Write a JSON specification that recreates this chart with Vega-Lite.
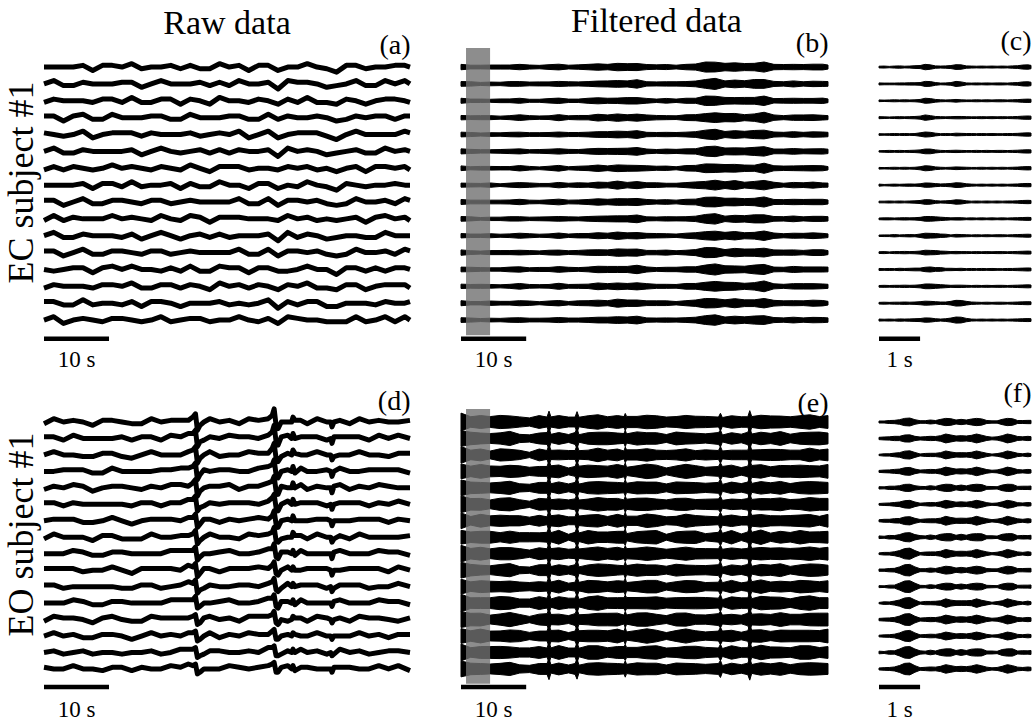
{
"$schema":"https://vega.github.io/schema/vega-lite/v6.json",
"padding":{"left":3,"top":5,"right":0,"bottom":0},
"background":"white",
"config":{"view":{"stroke":null},"title":{"font":"Liberation Serif","fontWeight":"normal","color":"black"}},
"datasets":{
"chmap":[{"key":"a","ch":10},{"key":"b","ch":20},{"key":"c","ch":30},{"key":"d","ch":40},{"key":"e","ch":50},{"key":"f","ch":60},{"key":"g","ch":70},{"key":"h","ch":80},{"key":"i","ch":90},{"key":"j","ch":100},{"key":"k","ch":110},{"key":"l","ch":120},{"key":"m","ch":130},{"key":"n","ch":140},{"key":"o","ch":150},{"key":"p","ch":160}],
"A":[
{"t":0,"a":10,"b":21,"c":29,"d":40,"e":51,"f":60,"g":69,"h":81,"i":90,"j":99,"k":110,"l":121,"m":131,"n":139,"o":150,"p":160},
{"t":1.5,"a":12,"b":21,"c":31,"d":39,"e":51,"f":62,"g":72,"h":81,"i":90,"j":101,"k":112,"l":120,"m":131,"n":141,"o":152,"p":160},
{"t":3,"a":8,"b":19,"c":30,"d":40,"e":48,"f":59,"g":69,"h":78,"i":90,"j":99,"k":109,"l":119,"m":128,"n":140,"o":149,"p":160},
{"t":4.5,"a":10,"b":19,"c":30,"d":41,"e":50,"f":59,"g":71,"h":80,"i":90,"j":101,"k":109,"l":120,"m":131,"n":140,"o":149,"p":160},
{"t":6,"a":11,"b":22,"c":30,"d":41,"e":52,"f":61,"g":70,"h":82,"i":91,"j":100,"k":111,"l":122,"m":132,"n":140,"o":151,"p":161},
{"t":7.5,"a":10,"b":19,"c":29,"d":38,"e":49,"f":60,"g":70,"h":79,"i":88,"j":99,"k":110,"l":118,"m":129,"n":139,"o":150,"p":158},
{"t":9,"a":9,"b":20,"c":31,"d":41,"e":49,"f":60,"g":70,"h":79,"i":91,"j":100,"k":110,"l":120,"m":129,"n":141,"o":150,"p":161},
{"t":10.5,"a":11,"b":20,"c":31,"d":42,"e":51,"f":60,"g":72,"h":81,"i":91,"j":102,"k":110,"l":121,"m":132,"n":141,"o":150,"p":161},
{"t":12,"a":11,"b":19,"c":30,"d":40,"e":51,"f":59,"g":70,"h":81,"i":89,"j":100,"k":110,"l":121,"m":130,"n":139,"o":151,"p":160},
{"t":13.5,"a":10,"b":21,"c":32,"d":42,"e":50,"f":61,"g":71,"h":80,"i":92,"j":101,"k":111,"l":121,"m":130,"n":142,"o":151,"p":162},
{"t":15,"a":9,"b":18,"c":29,"d":40,"e":49,"f":58,"g":70,"h":79,"i":89,"j":100,"k":108,"l":119,"m":130,"n":139,"o":148,"p":159},
{"t":16.5,"a":10,"b":21,"c":29,"d":40,"e":51,"f":60,"g":69,"h":81,"i":90,"j":99,"k":110,"l":121,"m":131,"n":139,"o":150,"p":160},
{"t":18,"a":12,"b":21,"c":31,"d":39,"e":51,"f":62,"g":72,"h":81,"i":90,"j":101,"k":112,"l":120,"m":131,"n":141,"o":152,"p":160},
{"t":19.5,"a":9,"b":20,"c":31,"d":41,"e":49,"f":60,"g":70,"h":79,"i":91,"j":100,"k":110,"l":120,"m":129,"n":141,"o":150,"p":161},
{"t":21,"a":10,"b":18,"c":29,"d":39,"e":50,"f":58,"g":69,"h":80,"i":88,"j":99,"k":109,"l":120,"m":129,"n":138,"o":150,"p":159},
{"t":22.5,"a":11,"b":20,"c":31,"d":42,"e":51,"f":60,"g":72,"h":81,"i":91,"j":102,"k":110,"l":121,"m":132,"n":141,"o":150,"p":161},
{"t":24,"a":11,"b":20,"c":30,"d":39,"e":50,"f":61,"g":71,"h":80,"i":89,"j":100,"k":111,"l":119,"m":130,"n":140,"o":151,"p":159},
{"t":25.5,"a":9,"b":20,"c":28,"d":39,"e":50,"f":59,"g":68,"h":80,"i":89,"j":98,"k":109,"l":120,"m":130,"n":138,"o":149,"p":159},
{"t":27,"a":10,"b":21,"c":32,"d":42,"e":50,"f":61,"g":71,"h":80,"i":92,"j":101,"k":111,"l":121,"m":130,"n":142,"o":151,"p":162},
{"t":28.5,"a":10,"b":19,"c":30,"d":41,"e":50,"f":59,"g":71,"h":80,"i":90,"j":101,"k":109,"l":120,"m":131,"n":140,"o":149,"p":160},
{"t":30,"a":12,"b":20,"c":31,"d":41,"e":52,"f":60,"g":71,"h":82,"i":90,"j":101,"k":111,"l":122,"m":131,"n":140,"o":152,"p":161},
{"t":31.5,"a":10,"b":19,"c":29,"d":38,"e":49,"f":60,"g":70,"h":79,"i":88,"j":99,"k":110,"l":118,"m":129,"n":139,"o":150,"p":158},
{"t":33,"a":9,"b":20,"c":31,"d":41,"e":49,"f":60,"g":70,"h":79,"i":91,"j":100,"k":110,"l":120,"m":129,"n":141,"o":150,"p":161},
{"t":34.5,"a":11,"b":22,"c":30,"d":41,"e":52,"f":61,"g":70,"h":82,"i":91,"j":100,"k":111,"l":122,"m":132,"n":140,"o":151,"p":161},
{"t":36,"a":8,"b":17,"c":28,"d":39,"e":48,"f":57,"g":69,"h":78,"i":88,"j":99,"k":107,"l":118,"m":129,"n":138,"o":147,"p":158},
{"t":37.5,"a":12,"b":21,"c":31,"d":39,"e":51,"f":62,"g":72,"h":81,"i":90,"j":101,"k":112,"l":120,"m":131,"n":141,"o":152,"p":160},
{"t":39,"a":11,"b":19,"c":30,"d":40,"e":51,"f":59,"g":70,"h":81,"i":89,"j":100,"k":110,"l":121,"m":130,"n":139,"o":151,"p":160},
{"t":40.5,"a":10,"b":21,"c":32,"d":42,"e":50,"f":61,"g":71,"h":80,"i":92,"j":101,"k":111,"l":121,"m":130,"n":142,"o":151,"p":162},
{"t":42,"a":10,"b":21,"c":29,"d":40,"e":51,"f":60,"g":69,"h":81,"i":90,"j":99,"k":110,"l":121,"m":131,"n":139,"o":150,"p":160},
{"t":43.5,"a":9,"b":18,"c":29,"d":40,"e":49,"f":58,"g":70,"h":79,"i":89,"j":100,"k":108,"l":119,"m":130,"n":139,"o":148,"p":159},
{"t":45,"a":9,"b":18,"c":28,"d":37,"e":48,"f":59,"g":69,"h":78,"i":87,"j":98,"k":109,"l":117,"m":128,"n":138,"o":149,"p":157},
{"t":46.5,"a":9,"b":20,"c":31,"d":41,"e":49,"f":60,"g":70,"h":79,"i":91,"j":100,"k":110,"l":120,"m":129,"n":141,"o":150,"p":161},
{"t":48,"a":12,"b":20,"c":31,"d":41,"e":52,"f":60,"g":71,"h":82,"i":90,"j":101,"k":111,"l":122,"m":131,"n":140,"o":152,"p":161},
{"t":49.5,"a":9,"b":20,"c":28,"d":39,"e":50,"f":59,"g":68,"h":80,"i":89,"j":98,"k":109,"l":120,"m":130,"n":138,"o":149,"p":159},
{"t":51,"a":10,"b":19,"c":30,"d":41,"e":50,"f":59,"g":71,"h":80,"i":90,"j":101,"k":109,"l":120,"m":131,"n":140,"o":149,"p":160},
{"t":52.5,"a":12,"b":21,"c":31,"d":39,"e":51,"f":62,"g":72,"h":81,"i":90,"j":101,"k":112,"l":120,"m":131,"n":141,"o":152,"p":160},
{"t":54,"a":9,"b":20,"c":31,"d":41,"e":49,"f":60,"g":70,"h":79,"i":91,"j":100,"k":110,"l":120,"m":129,"n":141,"o":150,"p":161},
{"t":55.5,"a":12,"b":20,"c":31,"d":41,"e":52,"f":60,"g":71,"h":82,"i":90,"j":101,"k":111,"l":122,"m":131,"n":140,"o":152,"p":161},
{"t":56.3,"a":10,"b":21,"c":29,"d":40,"e":51,"f":60,"g":69,"h":81,"i":90,"j":99,"k":110,"l":121,"m":131,"n":139,"o":150,"p":160}
],
"D":[
{"t":0,"a":11,"b":20,"c":30,"d":39,"e":50,"f":61,"g":71,"h":80,"i":89,"j":100,"k":111,"l":119,"m":130,"n":140,"o":151,"p":159},
{"t":1.5,"a":10,"b":21,"c":32,"d":42,"e":50,"f":61,"g":71,"h":80,"i":92,"j":101,"k":111,"l":121,"m":130,"n":142,"o":151,"p":162},
{"t":3,"a":10,"b":19,"c":30,"d":41,"e":50,"f":59,"g":71,"h":80,"i":90,"j":101,"k":109,"l":120,"m":131,"n":140,"o":149,"p":160},
{"t":4.5,"a":12,"b":20,"c":31,"d":41,"e":52,"f":60,"g":71,"h":82,"i":90,"j":101,"k":111,"l":122,"m":131,"n":140,"o":152,"p":161},
{"t":6,"a":10,"b":21,"c":29,"d":40,"e":51,"f":60,"g":69,"h":81,"i":90,"j":99,"k":110,"l":121,"m":131,"n":139,"o":150,"p":160},
{"t":7.5,"a":10,"b":19,"c":29,"d":38,"e":49,"f":60,"g":70,"h":79,"i":88,"j":99,"k":110,"l":118,"m":129,"n":139,"o":150,"p":158},
{"t":9,"a":9,"b":20,"c":31,"d":41,"e":49,"f":60,"g":70,"h":79,"i":91,"j":100,"k":110,"l":120,"m":129,"n":141,"o":150,"p":161},
{"t":10.5,"a":11,"b":20,"c":31,"d":42,"e":51,"f":60,"g":72,"h":81,"i":91,"j":102,"k":110,"l":121,"m":132,"n":141,"o":150,"p":161},
{"t":12,"a":11,"b":19,"c":30,"d":40,"e":51,"f":59,"g":70,"h":81,"i":89,"j":100,"k":110,"l":121,"m":130,"n":139,"o":151,"p":160},
{"t":13.5,"a":9,"b":20,"c":28,"d":39,"e":50,"f":59,"g":68,"h":80,"i":89,"j":98,"k":109,"l":120,"m":130,"n":138,"o":149,"p":159},
{"t":15,"a":11,"b":20,"c":30,"d":39,"e":50,"f":61,"g":71,"h":80,"i":89,"j":100,"k":111,"l":119,"m":130,"n":140,"o":151,"p":159},
{"t":16.5,"a":10,"b":21,"c":32,"d":42,"e":50,"f":61,"g":71,"h":80,"i":92,"j":101,"k":111,"l":121,"m":130,"n":142,"o":151,"p":162},
{"t":18,"a":10,"b":19,"c":30,"d":41,"e":50,"f":59,"g":71,"h":80,"i":90,"j":101,"k":109,"l":120,"m":131,"n":140,"o":149,"p":160},
{"t":19.5,"a":12,"b":20,"c":31,"d":41,"e":52,"f":60,"g":71,"h":82,"i":90,"j":101,"k":111,"l":122,"m":131,"n":140,"o":152,"p":161},
{"t":21,"a":11,"b":22,"c":30,"d":41,"e":52,"f":61,"g":70,"h":82,"i":91,"j":100,"k":111,"l":122,"m":132,"n":140,"o":151,"p":161},
{"t":22.2,"a":13,"b":22,"c":32,"d":41,"e":52,"f":63,"g":73,"h":82,"i":91,"j":102,"k":113,"l":121,"m":132,"n":142,"o":153,"p":161},
{"t":22.9,"a":12,"b":22,"c":32,"d":42,"e":52,"f":62,"g":72,"h":82,"i":92,"j":102,"k":113,"l":123,"m":133,"n":143,"o":153,"p":163},
{"t":23.3,"a":13,"b":23,"c":33,"d":43,"e":54,"f":64,"g":74,"h":84,"i":94,"j":104,"k":115,"l":125,"m":135,"n":145,"o":155,"p":165},
{"t":23.6,"a":7,"b":17,"c":27,"d":37,"e":47,"f":56,"g":66,"h":76,"i":86,"j":96,"k":106,"l":115,"m":125,"n":135,"o":145,"p":155},
{"t":24,"a":8,"b":18,"c":28,"d":38,"e":48,"f":58,"g":68,"h":78,"i":88,"j":98,"k":108,"l":118,"m":128,"n":138,"o":148,"p":158},
{"t":24.6,"a":10,"b":19,"c":30,"d":41,"e":50,"f":59,"g":71,"h":80,"i":90,"j":101,"k":109,"l":120,"m":131,"n":140,"o":149,"p":160},
{"t":25.5,"a":10,"b":21,"c":32,"d":42,"e":50,"f":61,"g":71,"h":80,"i":92,"j":101,"k":111,"l":121,"m":130,"n":142,"o":151,"p":162},
{"t":27,"a":10,"b":21,"c":29,"d":40,"e":51,"f":60,"g":69,"h":81,"i":90,"j":99,"k":110,"l":121,"m":131,"n":139,"o":150,"p":160},
{"t":28.5,"a":12,"b":20,"c":31,"d":41,"e":52,"f":60,"g":71,"h":82,"i":90,"j":101,"k":111,"l":122,"m":131,"n":140,"o":152,"p":161},
{"t":30,"a":11,"b":20,"c":30,"d":39,"e":50,"f":61,"g":71,"h":80,"i":89,"j":100,"k":111,"l":119,"m":130,"n":140,"o":151,"p":159},
{"t":31.5,"a":10,"b":21,"c":32,"d":42,"e":50,"f":61,"g":71,"h":80,"i":92,"j":101,"k":111,"l":121,"m":130,"n":142,"o":151,"p":162},
{"t":33,"a":11,"b":20,"c":31,"d":42,"e":51,"f":60,"g":72,"h":81,"i":91,"j":102,"k":110,"l":121,"m":132,"n":141,"o":150,"p":161},
{"t":34.5,"a":12,"b":23,"c":31,"d":42,"e":53,"f":62,"g":71,"h":83,"i":92,"j":101,"k":112,"l":123,"m":133,"n":141,"o":152,"p":162},
{"t":35.1,"a":13,"b":23,"c":33,"d":43,"e":53,"f":63,"g":73,"h":83,"i":93,"j":103,"k":114,"l":124,"m":134,"n":144,"o":154,"p":164},
{"t":35.4,"a":14,"b":24,"c":34,"d":45,"e":55,"f":65,"g":75,"h":86,"i":96,"j":106,"k":116,"l":127,"m":137,"n":147,"o":158,"p":168},
{"t":35.7,"a":8,"b":18,"c":28,"d":38,"e":48,"f":58,"g":68,"h":78,"i":88,"j":98,"k":108,"l":118,"m":128,"n":138,"o":148,"p":158},
{"t":36,"a":8,"b":18,"c":28,"d":37,"e":47,"f":57,"g":67,"h":77,"i":87,"j":96,"k":106,"l":116,"m":126,"n":136,"o":146,"p":156},
{"t":36.5,"a":11,"b":19,"c":30,"d":40,"e":51,"f":59,"g":70,"h":81,"i":89,"j":100,"k":110,"l":121,"m":130,"n":139,"o":151,"p":160},
{"t":37.5,"a":12,"b":21,"c":31,"d":39,"e":51,"f":62,"g":72,"h":81,"i":90,"j":101,"k":112,"l":120,"m":131,"n":141,"o":152,"p":160},
{"t":38.1,"a":10,"b":20,"c":30,"d":40,"e":50,"f":60,"g":70,"h":80,"i":90,"j":100,"k":110,"l":120,"m":130,"n":140,"o":150,"p":160},
{"t":38.3,"a":12,"b":22,"c":32,"d":42,"e":52,"f":62,"g":72,"h":82,"i":93,"j":103,"k":113,"l":123,"m":133,"n":143,"o":153,"p":163},
{"t":38.6,"a":9,"b":20,"c":31,"d":41,"e":49,"f":60,"g":70,"h":79,"i":91,"j":100,"k":110,"l":120,"m":129,"n":141,"o":150,"p":161},
{"t":39.5,"a":11,"b":22,"c":30,"d":41,"e":52,"f":61,"g":70,"h":82,"i":91,"j":100,"k":111,"l":122,"m":132,"n":140,"o":151,"p":161},
{"t":40.5,"a":11,"b":20,"c":30,"d":39,"e":50,"f":61,"g":71,"h":80,"i":89,"j":100,"k":111,"l":119,"m":130,"n":140,"o":151,"p":159},
{"t":42,"a":10,"b":21,"c":32,"d":42,"e":50,"f":61,"g":71,"h":80,"i":92,"j":101,"k":111,"l":121,"m":130,"n":142,"o":151,"p":162},
{"t":43.5,"a":10,"b":19,"c":30,"d":41,"e":50,"f":59,"g":71,"h":80,"i":90,"j":101,"k":109,"l":120,"m":131,"n":140,"o":149,"p":160},
{"t":44.1,"a":10,"b":20,"c":30,"d":40,"e":50,"f":60,"g":70,"h":80,"i":90,"j":100,"k":110,"l":120,"m":130,"n":140,"o":150,"p":160},
{"t":44.3,"a":8,"b":18,"c":28,"d":38,"e":48,"f":57,"g":67,"h":77,"i":87,"j":97,"k":107,"l":117,"m":127,"n":137,"o":147,"p":157},
{"t":44.6,"a":11,"b":19,"c":30,"d":40,"e":51,"f":59,"g":70,"h":81,"i":89,"j":100,"k":110,"l":121,"m":130,"n":139,"o":151,"p":160},
{"t":45.5,"a":11,"b":22,"c":30,"d":41,"e":52,"f":61,"g":70,"h":82,"i":91,"j":100,"k":111,"l":122,"m":132,"n":140,"o":151,"p":161},
{"t":47,"a":11,"b":20,"c":30,"d":39,"e":50,"f":61,"g":71,"h":80,"i":89,"j":100,"k":111,"l":119,"m":130,"n":140,"o":151,"p":159},
{"t":48.5,"a":10,"b":21,"c":32,"d":42,"e":50,"f":61,"g":71,"h":80,"i":92,"j":101,"k":111,"l":121,"m":130,"n":142,"o":151,"p":162},
{"t":50,"a":10,"b":19,"c":30,"d":41,"e":50,"f":59,"g":71,"h":80,"i":90,"j":101,"k":109,"l":120,"m":131,"n":140,"o":149,"p":160},
{"t":51.5,"a":12,"b":20,"c":31,"d":41,"e":52,"f":60,"g":71,"h":82,"i":90,"j":101,"k":111,"l":122,"m":131,"n":140,"o":152,"p":161},
{"t":53,"a":10,"b":21,"c":29,"d":40,"e":51,"f":60,"g":69,"h":81,"i":90,"j":99,"k":110,"l":121,"m":131,"n":139,"o":150,"p":160},
{"t":54.5,"a":12,"b":21,"c":31,"d":39,"e":51,"f":62,"g":72,"h":81,"i":90,"j":101,"k":112,"l":120,"m":131,"n":141,"o":152,"p":160},
{"t":56.3,"a":9,"b":20,"c":31,"d":41,"e":49,"f":60,"g":70,"h":79,"i":91,"j":100,"k":110,"l":120,"m":129,"n":141,"o":150,"p":161}
],
"B":[
{"t":0,"a":1.4,"b":1.5,"c":1.3,"d":1.4,"e":1.6,"f":1.3,"g":1.4,"h":1.5,"i":1.2,"j":1.4,"k":1.5,"l":1.4,"m":1.3,"n":1.5,"o":1.4,"p":1.6},
{"t":1.5,"a":1.2,"b":1.0,"c":1.1,"d":1.3,"e":1.1,"f":1.0,"g":1.2,"h":1.1,"i":1.1,"j":0.9,"k":1.2,"l":1.2,"m":1.1,"n":1.0,"o":1.3,"p":1.1},
{"t":3,"a":0.9,"b":1.0,"c":1.2,"d":1.1,"e":0.9,"f":1.0,"g":0.8,"h":1.1,"i":1.0,"j":1.1,"k":1.0,"l":0.9,"m":1.2,"n":1.0,"o":0.9,"p":1.1},
{"t":4.5,"a":1.1,"b":1.3,"c":1.1,"d":1.0,"e":1.2,"f":1.2,"g":1.0,"h":1.1,"i":1.3,"j":1.1,"k":1.0,"l":1.1,"m":1.2,"n":0.9,"o":1.1,"p":1.2},
{"t":6,"a":1.0,"b":1.1,"c":0.9,"d":1.0,"e":1.2,"f":0.9,"g":1.0,"h":1.1,"i":0.8,"j":1.0,"k":1.1,"l":1.0,"m":0.9,"n":1.1,"o":1.0,"p":1.2},
{"t":7.5,"a":1.3,"b":1.1,"c":1.2,"d":1.4,"e":1.2,"f":1.1,"g":1.3,"h":1.2,"i":1.2,"j":1.0,"k":1.3,"l":1.3,"m":1.2,"n":1.1,"o":1.4,"p":1.2},
{"t":9,"a":1.4,"b":1.5,"c":1.7,"d":1.6,"e":1.4,"f":1.5,"g":1.3,"h":1.6,"i":1.5,"j":1.6,"k":1.5,"l":1.4,"m":1.7,"n":1.5,"o":1.4,"p":1.6},
{"t":10.5,"a":1.1,"b":1.3,"c":1.1,"d":1.0,"e":1.2,"f":1.2,"g":1.0,"h":1.1,"i":1.3,"j":1.1,"k":1.0,"l":1.1,"m":1.2,"n":0.9,"o":1.1,"p":1.2},
{"t":12,"a":1.1,"b":0.9,"c":1.0,"d":1.2,"e":1.0,"f":0.9,"g":1.1,"h":1.0,"i":1.0,"j":0.8,"k":1.1,"l":1.1,"m":1.0,"n":0.9,"o":1.2,"p":1.0},
{"t":13.5,"a":1.2,"b":1.3,"c":1.1,"d":1.2,"e":1.4,"f":1.1,"g":1.2,"h":1.3,"i":1.0,"j":1.2,"k":1.3,"l":1.2,"m":1.1,"n":1.3,"o":1.2,"p":1.4},
{"t":15,"a":1.5,"b":1.6,"c":1.8,"d":1.7,"e":1.5,"f":1.6,"g":1.4,"h":1.7,"i":1.6,"j":1.7,"k":1.6,"l":1.5,"m":1.8,"n":1.6,"o":1.5,"p":1.7},
{"t":16.5,"a":1.2,"b":1.0,"c":1.1,"d":1.3,"e":1.1,"f":1.0,"g":1.2,"h":1.1,"i":1.1,"j":0.9,"k":1.2,"l":1.2,"m":1.1,"n":1.0,"o":1.3,"p":1.1},
{"t":18,"a":1.2,"b":1.4,"c":1.2,"d":1.1,"e":1.3,"f":1.3,"g":1.1,"h":1.2,"i":1.4,"j":1.2,"k":1.1,"l":1.2,"m":1.3,"n":1.0,"o":1.2,"p":1.3},
{"t":19.5,"a":1.4,"b":1.5,"c":1.3,"d":1.4,"e":1.6,"f":1.3,"g":1.4,"h":1.5,"i":1.2,"j":1.4,"k":1.5,"l":1.4,"m":1.3,"n":1.5,"o":1.4,"p":1.6},
{"t":21,"a":1.7,"b":1.8,"c":2.0,"d":1.9,"e":1.7,"f":1.8,"g":1.6,"h":1.9,"i":1.8,"j":1.9,"k":1.8,"l":1.7,"m":2.0,"n":1.8,"o":1.7,"p":1.9},
{"t":22.5,"a":1.7,"b":1.5,"c":1.6,"d":1.8,"e":1.6,"f":1.5,"g":1.7,"h":1.6,"i":1.6,"j":1.4,"k":1.7,"l":1.7,"m":1.6,"n":1.5,"o":1.8,"p":1.6},
{"t":24,"a":2.0,"b":2.4,"c":2.0,"d":1.8,"e":2.2,"f":2.2,"g":1.8,"h":2.0,"i":2.4,"j":2.0,"k":1.8,"l":2.0,"m":2.2,"n":1.6,"o":2.0,"p":2.2},
{"t":25.5,"a":1.8,"b":1.9,"c":1.7,"d":1.8,"e":2.0,"f":1.7,"g":1.8,"h":1.9,"i":1.6,"j":1.8,"k":1.9,"l":1.8,"m":1.7,"n":1.9,"o":1.8,"p":2.0},
{"t":27,"a":2.3,"b":1.9,"c":2.1,"d":2.5,"e":2.1,"f":1.9,"g":2.3,"h":2.1,"i":2.1,"j":1.7,"k":2.3,"l":2.3,"m":2.1,"n":1.9,"o":2.5,"p":2.1},
{"t":28.5,"a":1.3,"b":1.4,"c":1.6,"d":1.5,"e":1.3,"f":1.4,"g":1.2,"h":1.5,"i":1.4,"j":1.5,"k":1.4,"l":1.3,"m":1.6,"n":1.4,"o":1.3,"p":1.5},
{"t":30,"a":1.2,"b":1.4,"c":1.2,"d":1.1,"e":1.3,"f":1.3,"g":1.1,"h":1.2,"i":1.4,"j":1.2,"k":1.1,"l":1.2,"m":1.3,"n":1.0,"o":1.2,"p":1.3},
{"t":31.5,"a":1.3,"b":1.4,"c":1.2,"d":1.3,"e":1.5,"f":1.2,"g":1.3,"h":1.4,"i":1.1,"j":1.3,"k":1.4,"l":1.3,"m":1.2,"n":1.4,"o":1.3,"p":1.5},
{"t":33,"a":1.2,"b":1.0,"c":1.1,"d":1.3,"e":1.1,"f":1.0,"g":1.2,"h":1.1,"i":1.1,"j":0.9,"k":1.2,"l":1.2,"m":1.1,"n":1.0,"o":1.3,"p":1.1},
{"t":34.5,"a":1.4,"b":1.5,"c":1.7,"d":1.6,"e":1.4,"f":1.5,"g":1.3,"h":1.6,"i":1.5,"j":1.6,"k":1.5,"l":1.4,"m":1.7,"n":1.5,"o":1.4,"p":1.6},
{"t":36,"a":1.7,"b":1.9,"c":1.7,"d":1.6,"e":1.8,"f":1.8,"g":1.6,"h":1.7,"i":1.9,"j":1.7,"k":1.6,"l":1.7,"m":1.8,"n":1.5,"o":1.7,"p":1.8},
{"t":37.5,"a":2.6,"b":2.8,"c":2.4,"d":2.6,"e":3.0,"f":2.4,"g":2.6,"h":2.8,"i":2.2,"j":2.6,"k":2.8,"l":2.6,"m":2.4,"n":2.8,"o":2.6,"p":3.0},
{"t":39,"a":3.1,"b":2.7,"c":2.9,"d":3.3,"e":2.9,"f":2.7,"g":3.1,"h":2.9,"i":2.9,"j":2.5,"k":3.1,"l":3.1,"m":2.9,"n":2.7,"o":3.3,"p":2.9},
{"t":40.5,"a":1.8,"b":2.0,"c":2.4,"d":2.2,"e":1.8,"f":2.0,"g":1.6,"h":2.2,"i":2.0,"j":2.2,"k":2.0,"l":1.8,"m":2.4,"n":2.0,"o":1.8,"p":2.2},
{"t":42,"a":2.3,"b":2.7,"c":2.3,"d":2.1,"e":2.5,"f":2.5,"g":2.1,"h":2.3,"i":2.7,"j":2.3,"k":2.1,"l":2.3,"m":2.5,"n":1.9,"o":2.3,"p":2.5},
{"t":43.5,"a":1.9,"b":2.0,"c":1.8,"d":1.9,"e":2.1,"f":1.8,"g":1.9,"h":2.0,"i":1.7,"j":1.9,"k":2.0,"l":1.9,"m":1.8,"n":2.0,"o":1.9,"p":2.1},
{"t":45,"a":2.4,"b":2.0,"c":2.2,"d":2.6,"e":2.2,"f":2.0,"g":2.4,"h":2.2,"i":2.2,"j":1.8,"k":2.4,"l":2.4,"m":2.2,"n":2.0,"o":2.6,"p":2.2},
{"t":46.5,"a":2.6,"b":2.8,"c":3.2,"d":3.0,"e":2.6,"f":2.8,"g":2.4,"h":3.0,"i":2.8,"j":3.0,"k":2.8,"l":2.6,"m":3.2,"n":2.8,"o":2.6,"p":3.0},
{"t":48,"a":1.5,"b":1.7,"c":1.5,"d":1.4,"e":1.6,"f":1.6,"g":1.4,"h":1.5,"i":1.7,"j":1.5,"k":1.4,"l":1.5,"m":1.6,"n":1.3,"o":1.5,"p":1.6},
{"t":49.5,"a":1.3,"b":1.4,"c":1.2,"d":1.3,"e":1.5,"f":1.2,"g":1.3,"h":1.4,"i":1.1,"j":1.3,"k":1.4,"l":1.3,"m":1.2,"n":1.4,"o":1.3,"p":1.5},
{"t":51,"a":1.7,"b":1.5,"c":1.6,"d":1.8,"e":1.6,"f":1.5,"g":1.7,"h":1.6,"i":1.6,"j":1.4,"k":1.7,"l":1.7,"m":1.6,"n":1.5,"o":1.8,"p":1.6},
{"t":52.5,"a":1.3,"b":1.4,"c":1.6,"d":1.5,"e":1.3,"f":1.4,"g":1.2,"h":1.5,"i":1.4,"j":1.5,"k":1.4,"l":1.3,"m":1.6,"n":1.4,"o":1.3,"p":1.5},
{"t":54,"a":1.6,"b":1.8,"c":1.6,"d":1.5,"e":1.7,"f":1.7,"g":1.5,"h":1.6,"i":1.8,"j":1.6,"k":1.5,"l":1.6,"m":1.7,"n":1.4,"o":1.6,"p":1.7},
{"t":55.5,"a":1.5,"b":1.6,"c":1.4,"d":1.5,"e":1.7,"f":1.4,"g":1.5,"h":1.6,"i":1.3,"j":1.5,"k":1.6,"l":1.5,"m":1.4,"n":1.6,"o":1.5,"p":1.7},
{"t":56.3,"a":1.3,"b":1.1,"c":1.2,"d":1.4,"e":1.2,"f":1.1,"g":1.3,"h":1.2,"i":1.2,"j":1.0,"k":1.3,"l":1.3,"m":1.2,"n":1.1,"o":1.4,"p":1.2}
],
"E":[
{"t":0,"a":4.8,"b":5.1,"c":4.5,"d":4.8,"e":5.4,"f":4.5,"g":4.8,"h":5.1,"i":4.2,"j":4.8,"k":5.1,"l":4.8,"m":4.5,"n":5.1,"o":4.8,"p":5.4},
{"t":1.5,"a":3.5,"b":2.9,"c":3.2,"d":3.8,"e":3.2,"f":2.9,"g":3.5,"h":3.2,"i":3.2,"j":2.6,"k":3.5,"l":3.5,"m":3.2,"n":2.9,"o":3.8,"p":3.2},
{"t":3,"a":3.3,"b":3.6,"c":4.2,"d":3.9,"e":3.3,"f":3.6,"g":3.0,"h":3.9,"i":3.6,"j":3.9,"k":3.6,"l":3.3,"m":4.2,"n":3.6,"o":3.3,"p":3.9},
{"t":4.5,"a":3.0,"b":3.6,"c":3.0,"d":2.7,"e":3.3,"f":3.3,"g":2.7,"h":3.0,"i":3.6,"j":3.0,"k":2.7,"l":3.0,"m":3.3,"n":2.4,"o":3.0,"p":3.3},
{"t":6,"a":3.4,"b":3.7,"c":3.1,"d":3.4,"e":4.0,"f":3.1,"g":3.4,"h":3.7,"i":2.8,"j":3.4,"k":3.7,"l":3.4,"m":3.1,"n":3.7,"o":3.4,"p":4.0},
{"t":7.5,"a":4.0,"b":3.4,"c":3.7,"d":4.3,"e":3.7,"f":3.4,"g":4.0,"h":3.7,"i":3.7,"j":3.1,"k":4.0,"l":4.0,"m":3.7,"n":3.4,"o":4.3,"p":3.7},
{"t":9,"a":2.5,"b":2.8,"c":3.4,"d":3.1,"e":2.5,"f":2.8,"g":2.2,"h":3.1,"i":2.8,"j":3.1,"k":2.8,"l":2.5,"m":3.4,"n":2.8,"o":2.5,"p":3.1},
{"t":10.5,"a":2.2,"b":2.8,"c":2.2,"d":1.9,"e":2.5,"f":2.5,"g":1.9,"h":2.2,"i":2.8,"j":2.2,"k":1.9,"l":2.2,"m":2.5,"n":1.6,"o":2.2,"p":2.5},
{"t":12,"a":3.3,"b":3.6,"c":3.0,"d":3.3,"e":3.9,"f":3.0,"g":3.3,"h":3.6,"i":2.7,"j":3.3,"k":3.6,"l":3.3,"m":3.0,"n":3.6,"o":3.3,"p":3.9},
{"t":13.2,"a":3.3,"b":2.7,"c":3.0,"d":3.6,"e":3.0,"f":2.7,"g":3.3,"h":3.0,"i":3.0,"j":2.4,"k":3.3,"l":3.3,"m":3.0,"n":2.7,"o":3.6,"p":3.0},
{"t":13.5,"a":6.5,"b":6.4,"c":6.6,"d":6.5,"e":6.3,"f":6.5,"g":6.6,"h":6.4,"i":6.5,"j":6.5,"k":6.4,"l":6.6,"m":6.5,"n":6.3,"o":6.5,"p":6.6},
{"t":13.8,"a":2.5,"b":2.8,"c":3.4,"d":3.1,"e":2.5,"f":2.8,"g":2.2,"h":3.1,"i":2.8,"j":3.1,"k":2.8,"l":2.5,"m":3.4,"n":2.8,"o":2.5,"p":3.1},
{"t":15,"a":3.6,"b":4.2,"c":3.6,"d":3.3,"e":3.9,"f":3.9,"g":3.3,"h":3.6,"i":4.2,"j":3.6,"k":3.3,"l":3.6,"m":3.9,"n":3.0,"o":3.6,"p":3.9},
{"t":16.5,"a":2.4,"b":2.7,"c":2.1,"d":2.4,"e":3.0,"f":2.1,"g":2.4,"h":2.7,"i":1.8,"j":2.4,"k":2.7,"l":2.4,"m":2.1,"n":2.7,"o":2.4,"p":3.0},
{"t":17.5,"a":3.3,"b":2.7,"c":3.0,"d":3.6,"e":3.0,"f":2.7,"g":3.3,"h":3.0,"i":3.0,"j":2.4,"k":3.3,"l":3.3,"m":3.0,"n":2.7,"o":3.6,"p":3.0},
{"t":17.8,"a":6.2,"b":6.1,"c":6.3,"d":6.2,"e":6.0,"f":6.2,"g":6.3,"h":6.1,"i":6.2,"j":6.2,"k":6.1,"l":6.3,"m":6.2,"n":6.0,"o":6.2,"p":6.3},
{"t":18.1,"a":2.3,"b":2.6,"c":3.2,"d":2.9,"e":2.3,"f":2.6,"g":2.0,"h":2.9,"i":2.6,"j":2.9,"k":2.6,"l":2.3,"m":3.2,"n":2.6,"o":2.3,"p":2.9},
{"t":19.5,"a":3.5,"b":4.1,"c":3.5,"d":3.2,"e":3.8,"f":3.8,"g":3.2,"h":3.5,"i":4.1,"j":3.5,"k":3.2,"l":3.5,"m":3.8,"n":2.9,"o":3.5,"p":3.8},
{"t":21,"a":3.8,"b":4.1,"c":3.5,"d":3.8,"e":4.4,"f":3.5,"g":3.8,"h":4.1,"i":3.2,"j":3.8,"k":4.1,"l":3.8,"m":3.5,"n":4.1,"o":3.8,"p":4.4},
{"t":22.5,"a":3.5,"b":2.9,"c":3.2,"d":3.8,"e":3.2,"f":2.9,"g":3.5,"h":3.2,"i":3.2,"j":2.6,"k":3.5,"l":3.5,"m":3.2,"n":2.9,"o":3.8,"p":3.2},
{"t":24,"a":3.3,"b":3.6,"c":4.2,"d":3.9,"e":3.3,"f":3.6,"g":3.0,"h":3.9,"i":3.6,"j":3.9,"k":3.6,"l":3.3,"m":4.2,"n":3.6,"o":3.3,"p":3.9},
{"t":25,"a":3.0,"b":3.6,"c":3.0,"d":2.7,"e":3.3,"f":3.3,"g":2.7,"h":3.0,"i":3.6,"j":3.0,"k":2.7,"l":3.0,"m":3.3,"n":2.4,"o":3.0,"p":3.3},
{"t":25.2,"a":5.0,"b":4.8,"c":5.2,"d":5.0,"e":4.9,"f":5.1,"g":5.0,"h":4.8,"i":5.0,"j":5.2,"k":4.9,"l":5.0,"m":5.1,"n":4.8,"o":5.0,"p":5.2},
{"t":25.4,"a":2.8,"b":3.1,"c":2.5,"d":2.8,"e":3.4,"f":2.5,"g":2.8,"h":3.1,"i":2.2,"j":2.8,"k":3.1,"l":2.8,"m":2.5,"n":3.1,"o":2.8,"p":3.4},
{"t":27,"a":3.7,"b":3.1,"c":3.4,"d":4.0,"e":3.4,"f":3.1,"g":3.7,"h":3.4,"i":3.4,"j":2.8,"k":3.7,"l":3.7,"m":3.4,"n":3.1,"o":4.0,"p":3.4},
{"t":28.5,"a":3.5,"b":3.8,"c":4.4,"d":4.1,"e":3.5,"f":3.8,"g":3.2,"h":4.1,"i":3.8,"j":4.1,"k":3.8,"l":3.5,"m":4.4,"n":3.8,"o":3.5,"p":4.1},
{"t":30,"a":3.5,"b":4.1,"c":3.5,"d":3.2,"e":3.8,"f":3.8,"g":3.2,"h":3.5,"i":4.1,"j":3.5,"k":3.2,"l":3.5,"m":3.8,"n":2.9,"o":3.5,"p":3.8},
{"t":31.5,"a":2.4,"b":2.7,"c":2.1,"d":2.4,"e":3.0,"f":2.1,"g":2.4,"h":2.7,"i":1.8,"j":2.4,"k":2.7,"l":2.4,"m":2.1,"n":2.7,"o":2.4,"p":3.0},
{"t":33,"a":3.6,"b":3.0,"c":3.3,"d":3.9,"e":3.3,"f":3.0,"g":3.6,"h":3.3,"i":3.3,"j":2.7,"k":3.6,"l":3.6,"m":3.3,"n":3.0,"o":3.9,"p":3.3},
{"t":34.5,"a":3.4,"b":3.7,"c":4.3,"d":4.0,"e":3.4,"f":3.7,"g":3.1,"h":4.0,"i":3.7,"j":4.0,"k":3.7,"l":3.4,"m":4.3,"n":3.7,"o":3.4,"p":4.0},
{"t":36,"a":3.2,"b":3.8,"c":3.2,"d":2.9,"e":3.5,"f":3.5,"g":2.9,"h":3.2,"i":3.8,"j":3.2,"k":2.9,"l":3.2,"m":3.5,"n":2.6,"o":3.2,"p":3.5},
{"t":37.5,"a":2.8,"b":3.1,"c":2.5,"d":2.8,"e":3.4,"f":2.5,"g":2.8,"h":3.1,"i":2.2,"j":2.8,"k":3.1,"l":2.8,"m":2.5,"n":3.1,"o":2.8,"p":3.4},
{"t":39.5,"a":3.3,"b":2.7,"c":3.0,"d":3.6,"e":3.0,"f":2.7,"g":3.3,"h":3.0,"i":3.0,"j":2.4,"k":3.3,"l":3.3,"m":3.0,"n":2.7,"o":3.6,"p":3.0},
{"t":39.8,"a":5.2,"b":5.0,"c":5.3,"d":5.1,"e":5.2,"f":5.0,"g":5.3,"h":5.2,"i":5.1,"j":5.2,"k":5.0,"l":5.3,"m":5.2,"n":5.1,"o":5.2,"p":5.3},
{"t":40.1,"a":2.1,"b":2.4,"c":3.0,"d":2.7,"e":2.1,"f":2.4,"g":1.8,"h":2.7,"i":2.4,"j":2.7,"k":2.4,"l":2.1,"m":3.0,"n":2.4,"o":2.1,"p":2.7},
{"t":41.5,"a":3.5,"b":4.1,"c":3.5,"d":3.2,"e":3.8,"f":3.8,"g":3.2,"h":3.5,"i":4.1,"j":3.5,"k":3.2,"l":3.5,"m":3.8,"n":2.9,"o":3.5,"p":3.8},
{"t":43,"a":2.6,"b":2.9,"c":2.3,"d":2.6,"e":3.2,"f":2.3,"g":2.6,"h":2.9,"i":2.0,"j":2.6,"k":2.9,"l":2.6,"m":2.3,"n":2.9,"o":2.6,"p":3.2},
{"t":44,"a":3.5,"b":2.9,"c":3.2,"d":3.8,"e":3.2,"f":2.9,"g":3.5,"h":3.2,"i":3.2,"j":2.6,"k":3.5,"l":3.5,"m":3.2,"n":2.9,"o":3.8,"p":3.2},
{"t":44.3,"a":6.8,"b":6.7,"c":6.9,"d":6.8,"e":6.6,"f":6.8,"g":6.9,"h":6.7,"i":6.8,"j":6.8,"k":6.7,"l":6.9,"m":6.8,"n":6.6,"o":6.8,"p":6.9},
{"t":44.6,"a":2.7,"b":3.0,"c":3.6,"d":3.3,"e":2.7,"f":3.0,"g":2.4,"h":3.3,"i":3.0,"j":3.3,"k":3.0,"l":2.7,"m":3.6,"n":3.0,"o":2.7,"p":3.3},
{"t":46,"a":3.8,"b":4.4,"c":3.8,"d":3.5,"e":4.1,"f":4.1,"g":3.5,"h":3.8,"i":4.4,"j":3.8,"k":3.5,"l":3.8,"m":4.1,"n":3.2,"o":3.8,"p":4.1},
{"t":47.5,"a":3.1,"b":3.4,"c":2.8,"d":3.1,"e":3.7,"f":2.8,"g":3.1,"h":3.4,"i":2.5,"j":3.1,"k":3.4,"l":3.1,"m":2.8,"n":3.4,"o":3.1,"p":3.7},
{"t":49,"a":3.9,"b":3.3,"c":3.6,"d":4.2,"e":3.6,"f":3.3,"g":3.9,"h":3.6,"i":3.6,"j":3.0,"k":3.9,"l":3.9,"m":3.6,"n":3.3,"o":4.2,"p":3.6},
{"t":50.5,"a":2.6,"b":2.9,"c":3.5,"d":3.2,"e":2.6,"f":2.9,"g":2.3,"h":3.2,"i":2.9,"j":3.2,"k":2.9,"l":2.6,"m":3.5,"n":2.9,"o":2.6,"p":3.2},
{"t":52,"a":3.5,"b":4.1,"c":3.5,"d":3.2,"e":3.8,"f":3.8,"g":3.2,"h":3.5,"i":4.1,"j":3.5,"k":3.2,"l":3.5,"m":3.8,"n":2.9,"o":3.5,"p":3.8},
{"t":53.5,"a":3.8,"b":4.1,"c":3.5,"d":3.8,"e":4.4,"f":3.5,"g":3.8,"h":4.1,"i":3.2,"j":3.8,"k":4.1,"l":3.8,"m":3.5,"n":4.1,"o":3.8,"p":4.4},
{"t":55,"a":3.6,"b":3.0,"c":3.3,"d":3.9,"e":3.3,"f":3.0,"g":3.6,"h":3.3,"i":3.3,"j":2.7,"k":3.6,"l":3.6,"m":3.3,"n":3.0,"o":3.9,"p":3.3},
{"t":56.3,"a":3.3,"b":3.6,"c":4.2,"d":3.9,"e":3.3,"f":3.6,"g":3.0,"h":3.9,"i":3.6,"j":3.9,"k":3.6,"l":3.3,"m":4.2,"n":3.6,"o":3.3,"p":3.9}
],
"C":[
{"t":0,"a":0.6,"b":0.5,"c":0.5,"d":0.6,"e":0.5,"f":0.4,"g":0.5,"h":0.5,"i":0.6,"j":0.5,"k":0.4,"l":0.5,"m":0.6,"n":0.5,"o":0.6,"p":0.5},
{"t":0.125,"a":0.5,"b":0.6,"c":0.6,"d":0.5,"e":0.6,"f":0.5,"g":0.6,"h":0.5,"i":0.4,"j":0.4,"k":0.5,"l":0.4,"m":0.5,"n":0.4,"o":0.5,"p":0.6},
{"t":0.25,"a":0.6,"b":0.5,"c":0.5,"d":0.6,"e":0.4,"f":0.5,"g":0.6,"h":0.6,"i":0.5,"j":0.5,"k":0.6,"l":0.5,"m":0.4,"n":0.5,"o":0.5,"p":0.4},
{"t":0.375,"a":0.5,"b":0.6,"c":0.6,"d":0.5,"e":0.6,"f":0.7,"g":0.5,"h":0.5,"i":0.6,"j":0.6,"k":0.5,"l":0.6,"m":0.5,"n":0.6,"o":0.5,"p":0.6},
{"t":0.5,"a":0.7,"b":0.6,"c":0.6,"d":0.7,"e":0.6,"f":0.5,"g":0.6,"h":0.6,"i":0.5,"j":0.5,"k":0.6,"l":0.5,"m":0.6,"n":0.5,"o":0.6,"p":0.7},
{"t":0.625,"a":0.6,"b":0.7,"c":0.7,"d":0.6,"e":0.7,"f":0.6,"g":0.7,"h":0.5,"i":0.6,"j":0.6,"k":0.5,"l":0.6,"m":0.5,"n":0.6,"o":0.6,"p":0.5},
{"t":0.75,"a":0.7,"b":0.6,"c":0.6,"d":0.7,"e":0.6,"f":0.7,"g":0.6,"h":0.6,"i":0.7,"j":0.5,"k":0.6,"l":0.5,"m":0.6,"n":0.5,"o":0.7,"p":0.6},
{"t":0.875,"a":0.8,"b":0.7,"c":0.7,"d":0.8,"e":0.7,"f":0.6,"g":0.7,"h":0.7,"i":0.6,"j":0.6,"k":0.7,"l":0.6,"m":0.7,"n":0.6,"o":0.7,"p":0.8},
{"t":1.0,"a":0.9,"b":0.9,"c":0.9,"d":0.8,"e":0.9,"f":1.0,"g":0.9,"h":0.9,"i":0.8,"j":0.9,"k":0.9,"l":1.0,"m":0.9,"n":0.8,"o":0.8,"p":0.9},
{"t":1.125,"a":1.3,"b":1.2,"c":1.4,"d":1.3,"e":1.4,"f":1.5,"g":1.4,"h":1.4,"i":1.3,"j":1.5,"k":1.4,"l":1.5,"m":1.6,"n":1.5,"o":1.5,"p":1.6},
{"t":1.25,"a":1.2,"b":1.1,"c":1.4,"d":1.5,"e":1.3,"f":1.4,"g":1.4,"h":1.3,"i":1.2,"j":1.3,"k":1.4,"l":1.3,"m":1.2,"n":1.3,"o":1.4,"p":1.3},
{"t":1.375,"a":0.8,"b":0.9,"c":1.2,"d":1.1,"e":1.2,"f":1.3,"g":1.2,"h":0.8,"i":0.9,"j":0.8,"k":0.9,"l":0.8,"m":0.7,"n":0.8,"o":0.8,"p":0.7},
{"t":1.5,"a":0.6,"b":0.7,"c":1.0,"d":1.1,"e":0.9,"f":1.0,"g":1.0,"h":0.6,"i":0.7,"j":0.6,"k":0.6,"l":0.5,"m":0.6,"n":0.6,"o":0.5,"p":0.6},
{"t":1.625,"a":0.8,"b":0.7,"c":0.8,"d":0.7,"e":0.8,"f":0.9,"g":0.8,"h":0.7,"i":0.8,"j":0.5,"k":0.5,"l":0.6,"m":0.5,"n":0.5,"o":0.6,"p":0.7},
{"t":1.75,"a":1.2,"b":1.1,"c":0.6,"d":0.7,"e":0.6,"f":0.5,"g":0.6,"h":0.9,"i":1.0,"j":0.6,"k":0.6,"l":0.5,"m":0.6,"n":0.6,"o":0.8,"p":0.9},
{"t":1.875,"a":1.8,"b":1.7,"c":0.7,"d":0.6,"e":0.7,"f":0.8,"g":0.7,"h":1.3,"i":1.4,"j":0.8,"k":0.7,"l":0.8,"m":0.7,"n":0.8,"o":1.5,"p":1.4},
{"t":2.0,"a":1.7,"b":1.6,"c":0.7,"d":0.7,"e":0.6,"f":0.7,"g":0.7,"h":1.2,"i":1.3,"j":0.7,"k":0.6,"l":0.7,"m":0.7,"n":0.6,"o":1.2,"p":1.3},
{"t":2.125,"a":1.0,"b":1.1,"c":0.6,"d":0.5,"e":0.6,"f":0.6,"g":0.5,"h":0.7,"i":0.8,"j":0.6,"k":0.5,"l":0.6,"m":0.6,"n":0.5,"o":0.6,"p":0.7},
{"t":2.25,"a":0.6,"b":0.7,"c":0.5,"d":0.6,"e":0.5,"f":0.5,"g":0.6,"h":0.5,"i":0.6,"j":0.5,"k":0.5,"l":0.6,"m":0.5,"n":0.5,"o":0.5,"p":0.6},
{"t":2.375,"a":0.5,"b":0.6,"c":0.6,"d":0.5,"e":0.6,"f":0.6,"g":0.5,"h":0.6,"i":0.5,"j":0.5,"k":0.6,"l":0.5,"m":0.5,"n":0.6,"o":0.6,"p":0.5},
{"t":2.5,"a":0.6,"b":0.5,"c":0.5,"d":0.6,"e":0.5,"f":0.5,"g":0.6,"h":0.5,"i":0.6,"j":0.6,"k":0.5,"l":0.6,"m":0.6,"n":0.5,"o":0.5,"p":0.6},
{"t":2.625,"a":0.5,"b":0.6,"c":0.6,"d":0.5,"e":0.6,"f":0.6,"g":0.5,"h":0.6,"i":0.5,"j":0.5,"k":0.6,"l":0.5,"m":0.5,"n":0.6,"o":0.6,"p":0.5},
{"t":2.75,"a":0.6,"b":0.5,"c":0.5,"d":0.6,"e":0.5,"f":0.5,"g":0.6,"h":0.5,"i":0.6,"j":0.6,"k":0.5,"l":0.6,"m":0.6,"n":0.5,"o":0.5,"p":0.6},
{"t":2.875,"a":0.5,"b":0.6,"c":0.6,"d":0.5,"e":0.6,"f":0.6,"g":0.5,"h":0.6,"i":0.5,"j":0.5,"k":0.6,"l":0.5,"m":0.5,"n":0.6,"o":0.6,"p":0.5},
{"t":3.0,"a":0.6,"b":0.6,"c":0.6,"d":0.5,"e":0.6,"f":0.6,"g":0.6,"h":0.5,"i":0.6,"j":0.6,"k":0.6,"l":0.5,"m":0.6,"n":0.6,"o":0.6,"p":0.6},
{"t":3.125,"a":0.5,"b":0.5,"c":0.5,"d":0.6,"e":0.5,"f":0.5,"g":0.5,"h":0.6,"i":0.5,"j":0.5,"k":0.5,"l":0.6,"m":0.5,"n":0.5,"o":0.5,"p":0.5},
{"t":3.25,"a":0.6,"b":0.6,"c":0.6,"d":0.6,"e":0.6,"f":0.6,"g":0.6,"h":0.6,"i":0.6,"j":0.6,"k":0.6,"l":0.6,"m":0.6,"n":0.6,"o":0.7,"p":0.7},
{"t":3.375,"a":0.7,"b":0.7,"c":0.7,"d":0.7,"e":0.7,"f":0.7,"g":0.7,"h":0.7,"i":0.7,"j":0.7,"k":0.7,"l":0.7,"m":0.7,"n":0.7,"o":0.8,"p":0.8},
{"t":3.5,"a":0.8,"b":0.8,"c":0.8,"d":0.8,"e":0.8,"f":0.8,"g":0.8,"h":0.9,"i":0.9,"j":0.9,"k":0.9,"l":0.9,"m":0.9,"n":0.9,"o":1.2,"p":1.2},
{"t":3.625,"a":0.9,"b":0.9,"c":0.9,"d":0.9,"e":0.9,"f":0.9,"g":0.9,"h":1.0,"i":1.0,"j":1.0,"k":1.0,"l":1.0,"m":1.0,"n":1.0,"o":1.3,"p":1.3},
{"t":3.7,"a":0.8,"b":0.8,"c":0.8,"d":0.8,"e":0.8,"f":0.8,"g":0.8,"h":0.9,"i":0.9,"j":0.9,"k":0.9,"l":0.9,"m":0.9,"n":0.9,"o":1.0,"p":1.0}
],
"F":[
{"t":0,"a":0.6,"b":0.8,"c":0.5,"d":0.7,"e":0.4,"f":0.6,"g":0.7,"h":0.5,"i":0.8,"j":0.6,"k":0.5,"l":0.7,"m":0.6,"n":0.4,"o":0.7,"p":0.6},
{"t":0.125,"a":0.8,"b":0.6,"c":0.7,"d":0.9,"e":0.8,"f":0.5,"g":0.7,"h":0.8,"i":0.6,"j":0.9,"k":0.7,"l":0.6,"m":0.8,"n":0.7,"o":0.9,"p":0.6},
{"t":0.25,"a":0.9,"b":1.1,"c":0.8,"d":1.0,"e":0.7,"f":0.9,"g":1.0,"h":0.8,"i":1.1,"j":0.9,"k":0.8,"l":1.0,"m":0.9,"n":0.7,"o":1.0,"p":0.9},
{"t":0.375,"a":1.2,"b":1.0,"c":1.1,"d":1.3,"e":1.2,"f":0.9,"g":1.1,"h":1.2,"i":1.0,"j":1.3,"k":1.1,"l":1.0,"m":1.2,"n":1.1,"o":1.3,"p":1.0},
{"t":0.5,"a":2.1,"b":2.1,"c":1.9,"d":2.1,"e":1.9,"f":2.1,"g":2.0,"h":1.9,"i":1.6,"j":1.4,"k":1.4,"l":1.3,"m":1.4,"n":1.4,"o":1.3,"p":1.4},
{"t":0.625,"a":3.4,"b":3.4,"c":3.1,"d":3.4,"e":3.1,"f":3.4,"g":3.3,"h":3.1,"i":2.6,"j":2.3,"k":2.2,"l":2.1,"m":2.2,"n":2.3,"o":2.1,"p":2.2},
{"t":0.75,"a":3.6,"b":3.6,"c":3.4,"d":3.6,"e":3.4,"f":3.6,"g":3.5,"h":3.4,"i":2.8,"j":2.5,"k":2.4,"l":2.2,"m":2.4,"n":2.5,"o":2.2,"p":2.4},
{"t":0.875,"a":2.0,"b":2.1,"c":1.9,"d":2.0,"e":1.9,"f":2.1,"g":2.0,"h":1.9,"i":1.6,"j":1.5,"k":1.4,"l":1.3,"m":1.4,"n":1.5,"o":1.3,"p":1.4},
{"t":1.0,"a":0.8,"b":1.0,"c":0.7,"d":0.9,"e":0.6,"f":0.8,"g":0.9,"h":0.7,"i":1.0,"j":0.8,"k":0.7,"l":0.9,"m":0.8,"n":0.6,"o":0.9,"p":0.8},
{"t":1.125,"a":1.0,"b":0.8,"c":0.9,"d":1.1,"e":1.0,"f":0.7,"g":0.9,"h":1.0,"i":0.8,"j":1.1,"k":0.9,"l":0.8,"m":1.0,"n":0.9,"o":1.1,"p":0.8},
{"t":1.25,"a":1.2,"b":1.4,"c":1.1,"d":1.3,"e":1.0,"f":1.2,"g":1.3,"h":1.1,"i":1.4,"j":1.2,"k":1.1,"l":1.3,"m":1.2,"n":1.0,"o":1.3,"p":1.2},
{"t":1.375,"a":1.1,"b":0.9,"c":1.0,"d":1.2,"e":1.1,"f":0.8,"g":1.0,"h":1.1,"i":0.9,"j":1.2,"k":1.0,"l":0.9,"m":1.1,"n":1.0,"o":1.2,"p":0.9},
{"t":1.5,"a":1.6,"b":1.8,"c":1.5,"d":1.7,"e":1.4,"f":1.6,"g":1.7,"h":1.5,"i":1.8,"j":1.6,"k":1.5,"l":1.7,"m":1.6,"n":1.4,"o":1.7,"p":1.6},
{"t":1.625,"a":2.6,"b":2.2,"c":2.4,"d":2.7,"e":2.6,"f":2.1,"g":2.4,"h":2.6,"i":2.2,"j":2.7,"k":2.4,"l":2.2,"m":2.6,"n":2.4,"o":2.7,"p":2.2},
{"t":1.75,"a":2.0,"b":2.2,"c":1.9,"d":2.1,"e":1.8,"f":2.0,"g":2.1,"h":1.9,"i":2.2,"j":2.0,"k":1.9,"l":2.1,"m":2.0,"n":1.8,"o":2.1,"p":2.0},
{"t":1.875,"a":1.4,"b":1.2,"c":1.3,"d":1.5,"e":1.4,"f":1.1,"g":1.3,"h":1.4,"i":1.2,"j":1.5,"k":1.3,"l":1.2,"m":1.4,"n":1.3,"o":1.5,"p":1.2},
{"t":2.0,"a":1.6,"b":1.8,"c":1.5,"d":1.7,"e":1.4,"f":1.6,"g":1.7,"h":1.5,"i":1.8,"j":1.6,"k":1.5,"l":1.7,"m":1.6,"n":1.4,"o":1.7,"p":1.6},
{"t":2.125,"a":1.4,"b":1.2,"c":1.3,"d":1.5,"e":1.4,"f":1.1,"g":1.3,"h":1.4,"i":1.2,"j":1.5,"k":1.3,"l":1.2,"m":1.4,"n":1.3,"o":1.5,"p":1.2},
{"t":2.25,"a":1.8,"b":2.0,"c":1.7,"d":1.9,"e":1.6,"f":1.8,"g":1.9,"h":1.7,"i":2.0,"j":1.8,"k":1.7,"l":1.9,"m":1.8,"n":1.6,"o":1.9,"p":1.8},
{"t":2.375,"a":2.6,"b":2.2,"c":2.4,"d":2.7,"e":2.6,"f":2.1,"g":2.4,"h":2.6,"i":2.2,"j":2.7,"k":2.4,"l":2.2,"m":2.6,"n":2.4,"o":2.7,"p":2.2},
{"t":2.5,"a":1.9,"b":2.1,"c":1.8,"d":2.0,"e":1.7,"f":1.9,"g":2.0,"h":1.8,"i":2.1,"j":1.9,"k":1.8,"l":2.0,"m":1.9,"n":1.7,"o":2.0,"p":1.9},
{"t":2.625,"a":1.1,"b":0.9,"c":1.0,"d":1.2,"e":1.1,"f":0.8,"g":1.0,"h":1.1,"i":0.9,"j":1.2,"k":1.0,"l":0.9,"m":1.1,"n":1.0,"o":1.2,"p":0.9},
{"t":2.75,"a":0.7,"b":0.9,"c":0.6,"d":0.8,"e":0.5,"f":0.7,"g":0.8,"h":0.6,"i":0.9,"j":0.7,"k":0.6,"l":0.8,"m":0.7,"n":0.5,"o":0.8,"p":0.7},
{"t":2.875,"a":0.9,"b":0.7,"c":0.8,"d":1.0,"e":0.9,"f":0.6,"g":0.8,"h":0.9,"i":0.7,"j":1.0,"k":0.8,"l":0.7,"m":0.9,"n":0.8,"o":1.0,"p":0.7},
{"t":3.0,"a":1.6,"b":1.8,"c":1.5,"d":1.7,"e":1.4,"f":1.6,"g":1.7,"h":1.5,"i":1.8,"j":1.6,"k":1.5,"l":1.7,"m":1.6,"n":1.4,"o":1.7,"p":1.6},
{"t":3.125,"a":2.6,"b":2.2,"c":2.4,"d":2.7,"e":2.6,"f":2.1,"g":2.4,"h":2.6,"i":2.2,"j":2.7,"k":2.4,"l":2.2,"m":2.6,"n":2.4,"o":2.7,"p":2.2},
{"t":3.25,"a":2.0,"b":2.2,"c":1.9,"d":2.1,"e":1.8,"f":2.0,"g":2.1,"h":1.9,"i":2.2,"j":2.0,"k":1.9,"l":2.1,"m":2.0,"n":1.8,"o":2.1,"p":2.0},
{"t":3.375,"a":1.1,"b":0.9,"c":1.0,"d":1.2,"e":1.1,"f":0.8,"g":1.0,"h":1.1,"i":0.9,"j":1.2,"k":1.0,"l":0.9,"m":1.1,"n":1.0,"o":1.2,"p":0.9},
{"t":3.5,"a":0.9,"b":1.1,"c":0.8,"d":1.0,"e":0.7,"f":0.9,"g":1.0,"h":0.8,"i":1.1,"j":0.9,"k":0.8,"l":1.0,"m":0.9,"n":0.7,"o":1.0,"p":0.9},
{"t":3.625,"a":1.2,"b":1.0,"c":1.1,"d":1.3,"e":1.2,"f":0.9,"g":1.1,"h":1.2,"i":1.0,"j":1.3,"k":1.1,"l":1.0,"m":1.2,"n":1.1,"o":1.3,"p":1.0},
{"t":3.7,"a":1.0,"b":1.2,"c":0.9,"d":1.1,"e":0.8,"f":1.0,"g":1.1,"h":0.9,"i":1.2,"j":1.0,"k":0.9,"l":1.1,"m":1.0,"n":0.8,"o":1.1,"p":1.0}
]
},
"columns":3,
"align":"each",
"bounds":"flush",
"spacing":{"row":67,"column":51},
"concat":[
 {"width":366,"height":294,
  "title":{"text":"Raw data","fontSize":34,"anchor":"middle","frame":"group","offset":-37,"baseline":"alphabetic"},
  "encoding":{
   "x":{"field":"t","type":"quantitative","scale":{"domain":[0,56.3]},"axis":{"orient":"top","title":"(a)","domain":false,"ticks":false,"labels":false,"grid":false,"titleFont":"Liberation Serif","titleFontSize":28,"titleFontWeight":"normal","titleColor":"black","titleAnchor":"end","titleAlign":"right","titleBaseline":"alphabetic","titleY":5}},
   "y":{"field":"y","type":"quantitative","scale":{"domain":[-3,171.3],"nice":false,"zero":false},"axis":{"title":"EC subject #1","domain":false,"ticks":false,"labels":false,"grid":false,"titleFont":"Liberation Serif","titleFontSize":36,"titleFontWeight":"normal","titleColor":"black","titlePadding":4,"titleY":134}}},
  "layer":[
   {"data":{"name":"A"},"transform":[{"fold":["a","b","c","d","e","f","g","h","i","j","k","l","m","n","o","p"],"as":["key","y"]}],
    "mark":{"type":"line","color":"black","strokeWidth":5,"strokeJoin":"round"},
    "encoding":{"detail":{"field":"key","type":"nominal"}}},
   {"data":{"values":[{"t":0,"t1":10,"y":-1}]},"mark":{"type":"rule","color":"black","strokeWidth":4.5},"encoding":{"x2":{"field":"t1"}}},
   {"data":{"values":[{"t":5,"y":-1,"label":"10 s"}]},"mark":{"type":"text","font":"Liberation Serif","fontSize":23,"dy":21,"color":"black"},"encoding":{"text":{"field":"label"}}}
  ]},
 {"width":367,"height":294,
  "title":{"text":"Filtered data","fontSize":34,"anchor":"middle","frame":"group","offset":-37,"baseline":"alphabetic","dx":12},
  "encoding":{
   "x":{"field":"t","type":"quantitative","scale":{"domain":[0,56.3]},"axis":{"orient":"top","title":"(b)","domain":false,"ticks":false,"labels":false,"grid":false,"titleFont":"Liberation Serif","titleFontSize":28,"titleFontWeight":"normal","titleColor":"black","titleAnchor":"end","titleAlign":"right","titleBaseline":"alphabetic","titleY":3}},
   "y":{"field":"y","type":"quantitative","scale":{"domain":[-3,171.3],"nice":false,"zero":false},"axis":null}},
  "layer":[
   {"data":{"name":"B"},"transform":[{"fold":["a","b","c","d","e","f","g","h","i","j","k","l","m","n","o","p"],"as":["key","err"]},{"lookup":"key","from":{"data":{"name":"chmap"},"key":"key","fields":["ch"]},"as":["y"]}],
    "mark":{"type":"errorband","band":{"color":"black","opacity":1,"stroke":"black","strokeWidth":1}},
    "encoding":{"yError":{"field":"err"},"detail":{"field":"key","type":"nominal"}}},
   {"data":{"values":[{"t":0.77,"t1":4.46,"y":1,"y2v":171.3}]},"mark":{"type":"rect","color":"#707070","opacity":0.8},"encoding":{"x2":{"field":"t1"},"y2":{"field":"y2v"}}},
   {"data":{"values":[{"t":0,"t1":10,"y":-1}]},"mark":{"type":"rule","color":"black","strokeWidth":4.5},"encoding":{"x2":{"field":"t1"}}},
   {"data":{"values":[{"t":5,"y":-1,"label":"10 s"}]},"mark":{"type":"text","font":"Liberation Serif","fontSize":23,"dy":21,"color":"black"},"encoding":{"text":{"field":"label"}}}
  ]},
 {"width":152,"height":294,
  "encoding":{
   "x":{"field":"t","type":"quantitative","scale":{"domain":[0,3.7]},"axis":{"orient":"top","title":"(c)","domain":false,"ticks":false,"labels":false,"grid":false,"titleFont":"Liberation Serif","titleFontSize":28,"titleFontWeight":"normal","titleColor":"black","titleAnchor":"end","titleAlign":"right","titleBaseline":"alphabetic","titleY":1}},
   "y":{"field":"y","type":"quantitative","scale":{"domain":[-3,171.3],"nice":false,"zero":false},"axis":null}},
  "layer":[
   {"data":{"name":"C"},"transform":[{"fold":["a","b","c","d","e","f","g","h","i","j","k","l","m","n","o","p"],"as":["key","err"]},{"lookup":"key","from":{"data":{"name":"chmap"},"key":"key","fields":["ch"]},"as":["y"]}],
    "mark":{"type":"errorband","band":{"color":"black","opacity":1,"stroke":"black","strokeWidth":1}},
    "encoding":{"yError":{"field":"err"},"detail":{"field":"key","type":"nominal"}}},
   {"data":{"values":[{"t":0,"t1":1,"y":-1}]},"mark":{"type":"rule","color":"black","strokeWidth":4.5},"encoding":{"x2":{"field":"t1"}}},
   {"data":{"values":[{"t":0.5,"y":-1,"label":"1 s"}]},"mark":{"type":"text","font":"Liberation Serif","fontSize":23,"dy":21,"color":"black"},"encoding":{"text":{"field":"label"}}}
  ]},
 {"width":366,"height":283,
  "encoding":{
   "x":{"field":"t","type":"quantitative","scale":{"domain":[0,56.3]},"axis":{"orient":"top","title":"(d)","domain":false,"ticks":false,"labels":false,"grid":false,"titleFont":"Liberation Serif","titleFontSize":28,"titleFontWeight":"normal","titleColor":"black","titleAnchor":"end","titleAlign":"right","titleBaseline":"alphabetic","titleY":0}},
   "y":{"field":"y","type":"quantitative","scale":{"domain":[-4,167.9],"nice":false,"zero":false},"axis":{"title":"EO subject #1","domain":false,"ticks":false,"labels":false,"grid":false,"titleFont":"Liberation Serif","titleFontSize":36,"titleFontWeight":"normal","titleColor":"black","titlePadding":4,"titleY":125}}},
  "layer":[
   {"data":{"name":"D"},"transform":[{"fold":["a","b","c","d","e","f","g","h","i","j","k","l","m","n","o","p"],"as":["key","y"]}],
    "mark":{"type":"line","color":"black","strokeWidth":5,"strokeJoin":"round"},
    "encoding":{"detail":{"field":"key","type":"nominal"}}},
   {"data":{"values":[{"t":0,"t1":10,"y":-1}]},"mark":{"type":"rule","color":"black","strokeWidth":4.5},"encoding":{"x2":{"field":"t1"}}},
   {"data":{"values":[{"t":5,"y":-1,"label":"10 s"}]},"mark":{"type":"text","font":"Liberation Serif","fontSize":23,"dy":23,"color":"black"},"encoding":{"text":{"field":"label"}}}
  ]},
 {"width":367,"height":283,
  "encoding":{
   "x":{"field":"t","type":"quantitative","scale":{"domain":[0,56.3]},"axis":{"orient":"top","title":"(e)","domain":false,"ticks":false,"labels":false,"grid":false,"titleFont":"Liberation Serif","titleFontSize":28,"titleFontWeight":"normal","titleColor":"black","titleAnchor":"end","titleAlign":"right","titleBaseline":"alphabetic","titleY":2}},
   "y":{"field":"y","type":"quantitative","scale":{"domain":[-4,167.9],"nice":false,"zero":false},"axis":null}},
  "layer":[
   {"data":{"name":"E"},"transform":[{"fold":["a","b","c","d","e","f","g","h","i","j","k","l","m","n","o","p"],"as":["key","err"]},{"lookup":"key","from":{"data":{"name":"chmap"},"key":"key","fields":["ch"]},"as":["y"]}],
    "mark":{"type":"errorband","band":{"color":"black","opacity":1,"stroke":"black","strokeWidth":1}},
    "encoding":{"yError":{"field":"err"},"detail":{"field":"key","type":"nominal"}}},
   {"data":{"values":[{"t":0.77,"t1":4.46,"y":1,"y2v":167.9}]},"mark":{"type":"rect","color":"#707070","opacity":0.8},"encoding":{"x2":{"field":"t1"},"y2":{"field":"y2v"}}},
   {"data":{"values":[{"t":0,"t1":10,"y":-1}]},"mark":{"type":"rule","color":"black","strokeWidth":4.5},"encoding":{"x2":{"field":"t1"}}},
   {"data":{"values":[{"t":5,"y":-1,"label":"10 s"}]},"mark":{"type":"text","font":"Liberation Serif","fontSize":23,"dy":23,"color":"black"},"encoding":{"text":{"field":"label"}}}
  ]},
 {"width":152,"height":283,
  "encoding":{
   "x":{"field":"t","type":"quantitative","scale":{"domain":[0,3.7]},"axis":{"orient":"top","title":"(f)","domain":false,"ticks":false,"labels":false,"grid":false,"titleFont":"Liberation Serif","titleFontSize":28,"titleFontWeight":"normal","titleColor":"black","titleAnchor":"end","titleAlign":"right","titleBaseline":"alphabetic","titleY":-8}},
   "y":{"field":"y","type":"quantitative","scale":{"domain":[-4,167.9],"nice":false,"zero":false},"axis":null}},
  "layer":[
   {"data":{"name":"F"},"transform":[{"fold":["a","b","c","d","e","f","g","h","i","j","k","l","m","n","o","p"],"as":["key","err"]},{"lookup":"key","from":{"data":{"name":"chmap"},"key":"key","fields":["ch"]},"as":["y"]}],
    "mark":{"type":"errorband","band":{"color":"black","opacity":1,"stroke":"black","strokeWidth":1}},
    "encoding":{"yError":{"field":"err"},"detail":{"field":"key","type":"nominal"}}},
   {"data":{"values":[{"t":0,"t1":1,"y":-1}]},"mark":{"type":"rule","color":"black","strokeWidth":4.5},"encoding":{"x2":{"field":"t1"}}},
   {"data":{"values":[{"t":0.5,"y":-1,"label":"1 s"}]},"mark":{"type":"text","font":"Liberation Serif","fontSize":23,"dy":23,"color":"black"},"encoding":{"text":{"field":"label"}}}
  ]}
]
}
